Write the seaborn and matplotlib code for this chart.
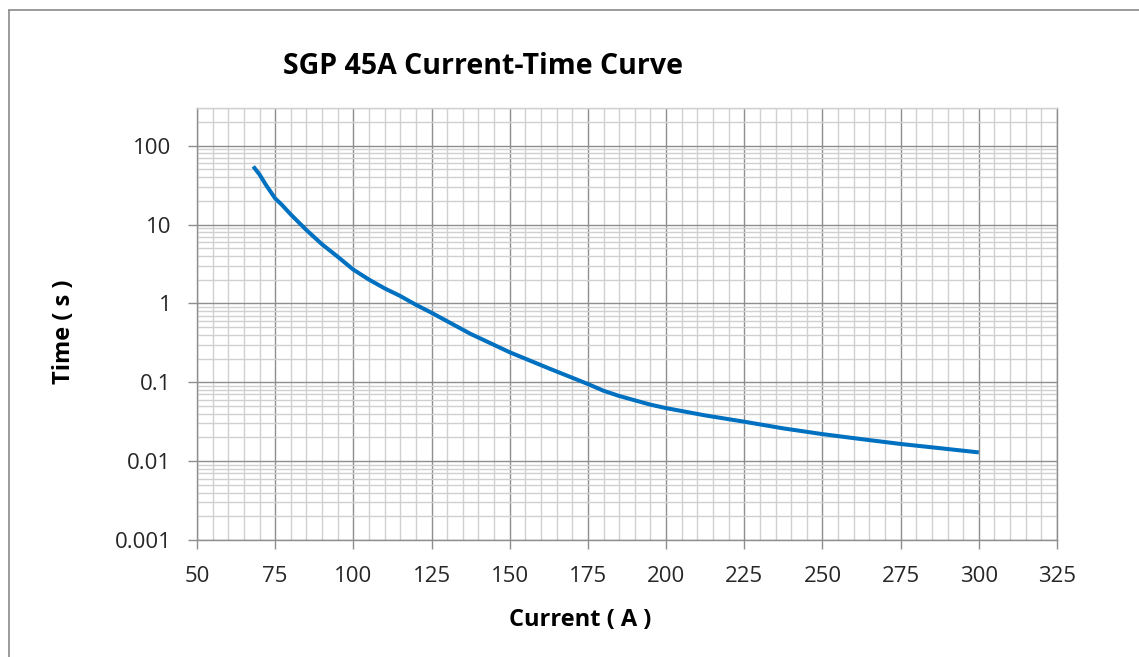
import matplotlib
matplotlib.use("Agg")
import matplotlib.pyplot as plt
import matplotlib.ticker as mticker
import pandas as pd
import seaborn as sns

# values
current_a = [68, 70, 72, 75, 77, 80, 85, 90, 95, 100, 105, 110, 115, 120,
             125, 137.5, 150, 162.5, 175, 180, 185, 190, 195, 200, 212.5,
             225, 237.5, 250, 262.5, 275, 287.5, 300]
time_s = [54.5, 43, 32, 21.4, 18.0, 13.4, 8.5, 5.6, 3.9, 2.68, 2.0, 1.55,
          1.24, 0.96, 0.76, 0.41, 0.24, 0.15, 0.095, 0.078, 0.067, 0.059,
          0.052, 0.047, 0.038, 0.0316, 0.026, 0.022, 0.019, 0.0165, 0.0146,
          0.0129]

x_ticks = [50, 75, 100, 125, 150, 175, 200, 225, 250, 275, 300, 325]
y_ticks = [0.001, 0.01, 0.1, 1, 10, 100]
y_labels = ["0.001", "0.01", "0.1", "1", "10", "100"]

curve = pd.DataFrame({"current": current_a, "time": time_s})

sns.set_style("white")
plt.rcParams['font.family'] = ['Open Sans', 'DejaVu Sans']

W, H = 1139, 657
fig = plt.figure(figsize=(W / 100, H / 100), dpi=100)
ax = fig.add_axes([197 / W, 1 - 540 / H, (1057 - 197) / W, (540 - 108) / H])

ax.set_yscale("log")
ax.set_xlim(50, 325)
ax.set_ylim(0.001, 300)

ax.xaxis.set_major_locator(mticker.FixedLocator(x_ticks))
ax.xaxis.set_minor_locator(mticker.MultipleLocator(5))
ax.yaxis.set_major_locator(mticker.FixedLocator(y_ticks))
ax.yaxis.set_minor_locator(mticker.LogLocator(base=10, subs=range(2, 10)))
ax.yaxis.set_major_formatter(mticker.FixedFormatter(y_labels))
ax.yaxis.set_minor_formatter(mticker.NullFormatter())

ax.grid(which="minor", color="#d0d0d0", linewidth=1.0)
ax.grid(which="major", color="#8e8e8e", linewidth=1.0)
ax.set_axisbelow(True)

sns.lineplot(data=curve, x="current", y="time", ax=ax, color="#0070c0",
             linewidth=2.9, solid_capstyle="butt", solid_joinstyle="round")

for side, sp in ax.spines.items():
    sp.set_color("#8e8e8e")
    sp.set_linewidth(1.0)
ax.spines["top"].set_color("#d0d0d0")

ax.tick_params(which="major", direction="out", length=6.5, width=1,
               color="#8e8e8e", labelsize=16, labelcolor="#262626", pad=12)
ax.tick_params(which="minor", length=0)
ax.tick_params(axis="y", left=True)
ax.tick_params(axis="x", bottom=True)

ax.set_xlabel("")
ax.set_ylabel("")

fig.text(483 / W, 1 - 66 / H, "SGP 45A Current-Time Curve", ha="center",
         va="center", fontsize=20.5, fontweight="bold", color="black")
fig.text(580 / W, 1 - 620 / H, "Current ( A )", ha="center", va="center",
         fontsize=17, fontweight="bold", color="black")
fig.text(64 / W, 1 - 332 / H, "Time ( s )", ha="center", va="center",
         rotation=90, fontsize=17, fontweight="bold", color="black")

# outer frame: only top and left edges visible in the crop
fig.add_artist(plt.Line2D([9 / W, 9 / W], [0, 1 - 10 / H],
                          transform=fig.transFigure, color="#8a8a8a", lw=1.2))
fig.add_artist(plt.Line2D([9 / W, 1], [1 - 10 / H, 1 - 10 / H],
                          transform=fig.transFigure, color="#8a8a8a", lw=1.2))

fig.savefig("out.png", dpi=100)
